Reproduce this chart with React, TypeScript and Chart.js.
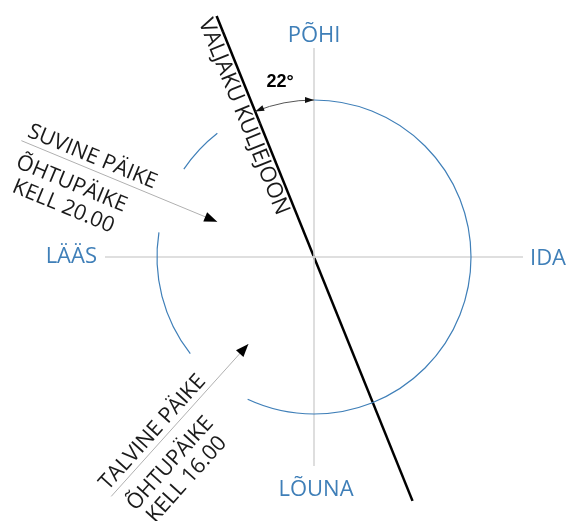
import { useEffect, useRef } from 'react';
import { Chart, registerables } from 'chart.js';

Chart.register(...registerables);

// ---- data ----
const compassLabels = ['PÕHI', 'IDA', 'LÕUNA', 'LÄÄS'];
const compassAzimuths = [0, 90, 180, 270];
const fieldLineAzimuth = 338; // field side line, 22° west of north
const fieldLineLabel = 'VÄLJAKU KÜLJEJOON';
const angleLabel = '22°';
const sunNames = ['SUVINE PÄIKE', 'TALVINE PÄIKE'];
const sunSubtitles = ['ÕHTUPÄIKE', 'ÕHTUPÄIKE'];
const sunTimes = ['KELL 20.00', 'KELL 16.00'];
const sunAzimuths = [292.5, 222]; // direction the sun comes from
const sunTipAzimuths = [290, 217];
const arcStarts = [0, 232, 304];
const arcEnds = [205, 279, 322];

// ---- geometry constants (layout) ----
const R = 157;
const ARM = 209;
const TIP_R = [103, 109];
const ARROW_LEN = [212, 205];
// label offsets along (u) / across (n) each sun arrow: [name, subtitle, time]
const SUN_U = [[3, 4, 10], [2, 5, 9]];
const SUN_N = [[-6, 27, 51], [-6, 28, 51]];

const rad = (d: number) => (d * Math.PI) / 180;
const polar = (az: number, r: number) => ({ x: r * Math.sin(rad(az)), y: r * Math.cos(rad(az)) });

const BLUE = '#3f7fb8';

function sunArrow(i: number) {
  const tip = polar(sunTipAzimuths[i], TIP_R[i]);
  const d = polar(sunAzimuths[i], ARROW_LEN[i]);
  return [{ x: tip.x + d.x, y: tip.y + d.y }, tip];
}

const diagramPlugin = {
  id: 'diagram',
  afterDatasetsDraw(chart: any) {
    const ctx = chart.ctx as CanvasRenderingContext2D;
    const xs = chart.scales.x;
    const ys = chart.scales.y;
    const px = (p: { x: number; y: number }) => ({ x: xs.getPixelForValue(p.x), y: ys.getPixelForValue(p.y) });
    const c = px({ x: 0, y: 0 });
    const rPx = xs.getPixelForValue(R) - xs.getPixelForValue(0);

    const head = (tx: number, ty: number, dx: number, dy: number, len: number, w: number, col: string) => {
      const n = Math.hypot(dx, dy);
      dx /= n; dy /= n;
      ctx.beginPath();
      ctx.moveTo(tx, ty);
      ctx.lineTo(tx - dx * len - dy * w / 2, ty - dy * len + dx * w / 2);
      ctx.lineTo(tx - dx * len + dy * w / 2, ty - dy * len - dx * w / 2);
      ctx.closePath();
      ctx.fillStyle = col;
      ctx.fill();
    };

    const rotText = (txt: string, ox: number, oy: number, th: number, u: number, n: number, font: string, col: string) => {
      ctx.save();
      ctx.translate(ox, oy);
      ctx.rotate(th);
      ctx.font = font;
      ctx.fillStyle = col;
      ctx.textAlign = 'left';
      ctx.textBaseline = 'alphabetic';
      ctx.fillText(txt, u, n);
      ctx.restore();
    };

    ctx.save();
    // blue circle arcs
    ctx.strokeStyle = BLUE;
    ctx.lineWidth = 1.2;
    for (let i = 0; i < arcStarts.length; i++) {
      ctx.beginPath();
      ctx.arc(c.x, c.y, rPx, rad(arcStarts[i] - 90), rad(arcEnds[i] - 90), false);
      ctx.stroke();
    }

    // 22° angle marker
    ctx.strokeStyle = '#555';
    ctx.lineWidth = 1;
    ctx.beginPath();
    ctx.arc(c.x, c.y, rPx, rad(fieldLineAzimuth - 90), rad(360 - 90), false);
    ctx.stroke();
    head(c.x, c.y - rPx, 1, 0, 9, 6, '#111');
    const phi = rad(fieldLineAzimuth - 90);
    const ex = c.x + rPx * Math.cos(phi);
    const ey = c.y + rPx * Math.sin(phi);
    head(ex, ey, Math.sin(phi), -Math.cos(phi), 9, 6, '#111');
    const lp = px(polar((fieldLineAzimuth + 360) / 2, 178));
    ctx.font = 'bold 18px "Liberation Sans", Arial, sans-serif';
    ctx.fillStyle = '#000';
    ctx.textAlign = 'center';
    ctx.textBaseline = 'middle';
    ctx.fillText(angleLabel, lp.x, lp.y);

    // sun arrowheads and labels
    const blackFont = '21.5px "Open Sans", sans-serif';
    for (let i = 0; i < sunAzimuths.length; i++) {
      const [s, t] = sunArrow(i);
      const sp = px(s);
      const tp = px(t);
      const dx = tp.x - sp.x;
      const dy = tp.y - sp.y;
      head(tp.x, tp.y, dx, dy, 13, 10, '#000');
      const th = Math.atan2(dy, dx);
      rotText(sunNames[i], sp.x, sp.y, th, SUN_U[i][0], SUN_N[i][0], blackFont, '#1a1a1a');
      rotText(sunSubtitles[i], sp.x, sp.y, th, SUN_U[i][1], SUN_N[i][1], blackFont, '#1a1a1a');
      rotText(sunTimes[i], sp.x, sp.y, th, SUN_U[i][2], SUN_N[i][2], blackFont, '#1a1a1a');
    }

    // field line label
    const ft = px(polar(fieldLineAzimuth, 260));
    const fb = px(polar(fieldLineAzimuth - 180, 263));
    const fth = Math.atan2(fb.y - ft.y, fb.x - ft.x);
    rotText(fieldLineLabel, ft.x, ft.y, fth, -1, 19, '22px "Open Sans", sans-serif', '#1a1a1a');

    // compass labels
    ctx.font = '22px "Open Sans", sans-serif';
    ctx.fillStyle = BLUE;
    ctx.textBaseline = 'alphabetic';
    compassAzimuths.forEach((az, i) => {
      let p;
      if (az === 0) { ctx.textAlign = 'center'; p = px({ x: 0, y: 215 }); }
      else if (az === 90) { ctx.textAlign = 'left'; p = px({ x: 216, y: -8 }); }
      else if (az === 180) { ctx.textAlign = 'center'; p = px({ x: 2, y: -239 }); }
      else { ctx.textAlign = 'right'; p = px({ x: -217, y: -6 }); }
      ctx.fillText(compassLabels[i], p.x, p.y);
    });
    ctx.restore();
  },
};

export default function App() {
  const ref = useRef<HTMLCanvasElement | null>(null);
  useEffect(() => {
    if (!ref.current) return;
    const lineDs = (data: any[], color: string, width: number) => ({
      data,
      showLine: true,
      borderColor: color,
      borderWidth: width,
      pointRadius: 0,
      pointHoverRadius: 0,
      fill: false,
    });
    const chart = new Chart(ref.current, {
      type: 'scatter',
      data: {
        datasets: [
          lineDs([{ x: 0, y: ARM }, { x: 0, y: -ARM }], '#d4d4d4', 1.5),
          lineDs([{ x: -ARM, y: 0 }, { x: ARM, y: 0 }], '#d4d4d4', 1.5),
          lineDs(sunArrow(0), '#b0b0b0', 1),
          lineDs(sunArrow(1), '#b0b0b0', 1),
          lineDs([polar(fieldLineAzimuth, 260), polar(fieldLineAzimuth - 180, 263)], '#000', 2.5),
        ],
      },
      options: {
        responsive: false,
        maintainAspectRatio: false,
        animation: false,
        devicePixelRatio: 1,
        layout: { padding: 0 },
        events: [],
        scales: {
          x: { type: 'linear', min: -314, max: 258, display: false },
          y: { type: 'linear', min: -264, max: 257, display: false },
        },
        plugins: { legend: { display: false }, tooltip: { enabled: false } },
      },
      plugins: [diagramPlugin],
    });
    return () => chart.destroy();
  }, []);
  return (
    <div style={{ position: 'absolute', left: 0, top: 0, width: 572, height: 521, background: '#fff' }}>
      <canvas ref={ref} width={572} height={521} />
    </div>
  );
}
